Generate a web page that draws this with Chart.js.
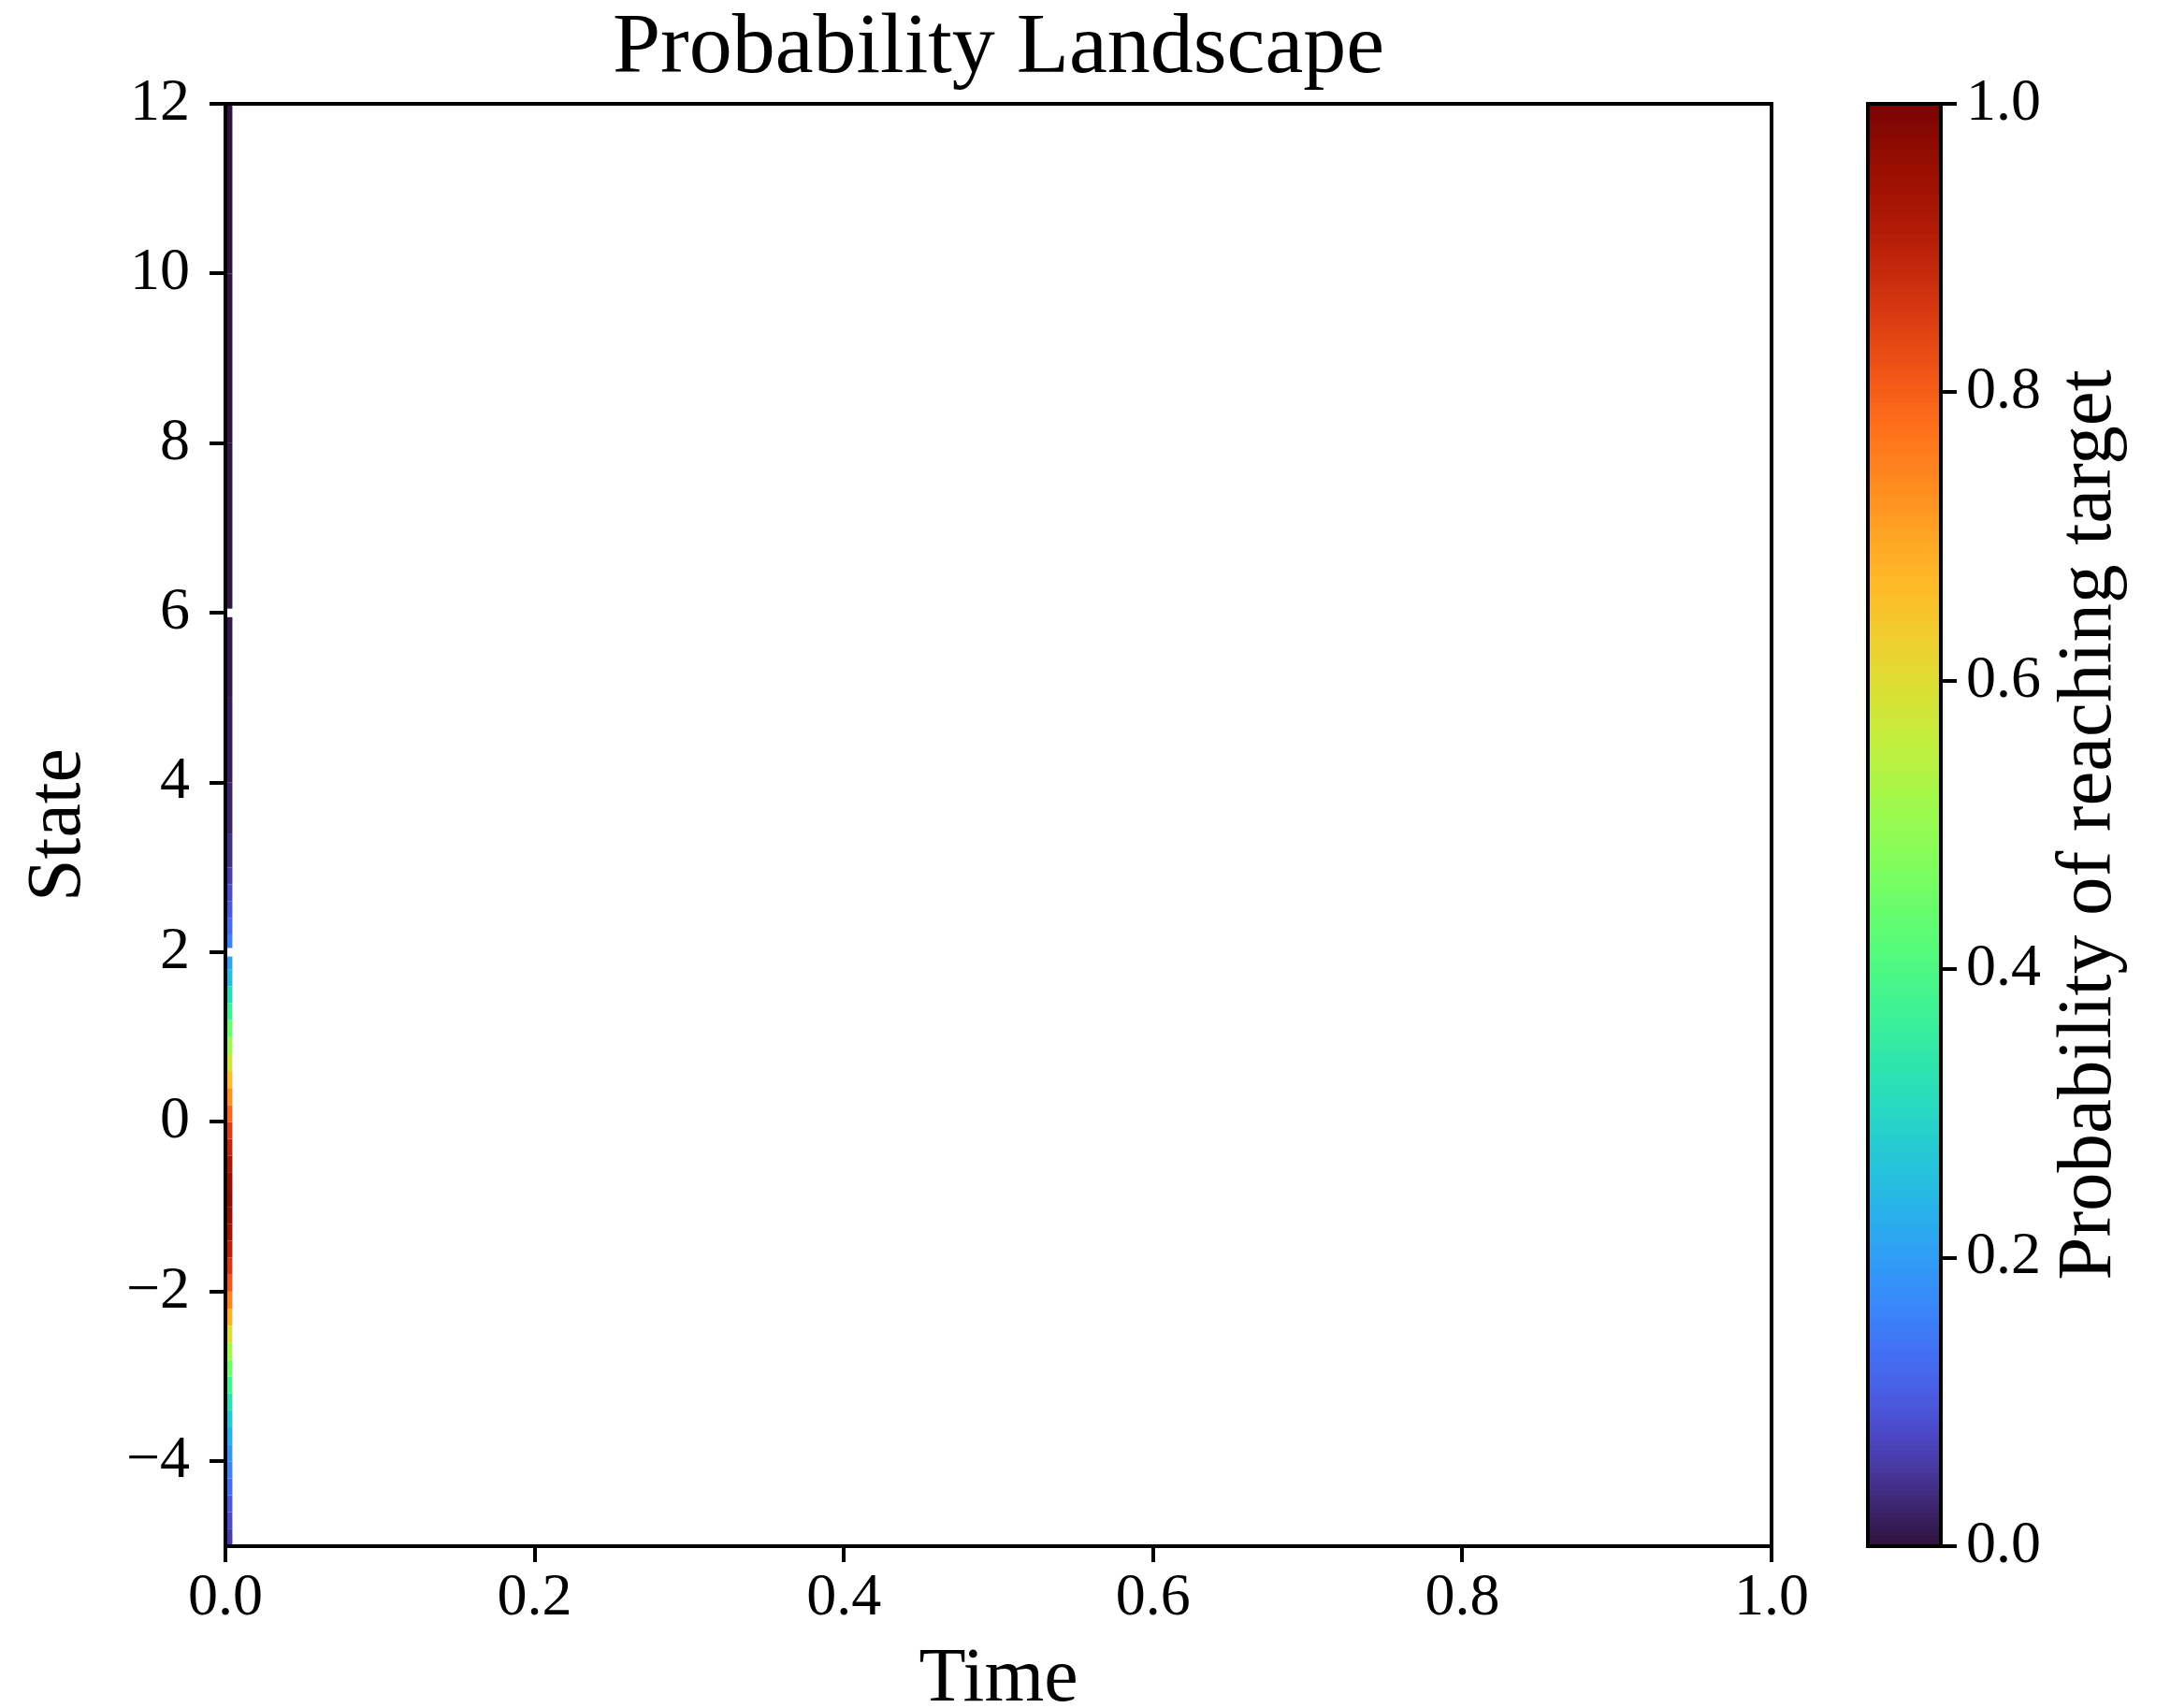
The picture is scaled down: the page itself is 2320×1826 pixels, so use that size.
<!DOCTYPE html>
<html>
<head>
<meta charset="utf-8">
<title>Probability Landscape</title>
<script src="https://cdn.jsdelivr.net/npm/chart.js@4.4.1/dist/chart.umd.min.js"></script>
<style>
    html, body { margin: 0; padding: 0; background: #fff; }
    #wrap { position: relative; width: 2320px; height: 1826px; }
    #wrap canvas { position: absolute; left: 0; top: 0; }
</style>
</head>
<body>
<div id="wrap">
    <canvas id="landscape" width="2320" height="1826"></canvas>
    <canvas id="colorbar" width="2320" height="1826"></canvas>
</div>
<script>
// Time bins that have been computed so far (only the first column)
const timeEdges = [0, 0.0045];

// State bin edges, finer around the target region
const stateEdges = [
    -5.0, -4.8, -4.6, -4.4, -4.2, -4.0, -3.8, -3.6, -3.4, -3.2,
    -3.0, -2.8, -2.6, -2.4, -2.2, -2.0, -1.8, -1.6, -1.4, -1.2,
    -1.0, -0.8, -0.6, -0.4, -0.2, 0.0, 0.2, 0.4, 0.6, 0.8,
    1.0, 1.2, 1.4, 1.6, 1.8, 1.95, 2.05, 2.2, 2.4, 2.6,
    2.8, 3.0, 3.4, 4.0, 5.0, 5.95, 6.05, 8.0, 10.0, 12.0
];

// Probability of reaching the target for each state bin (null = undefined)
const probReach = [
    0.06, 0.08, 0.10, 0.13, 0.16, 0.19, 0.23, 0.27, 0.32, 0.38,
    0.45, 0.52, 0.60, 0.68, 0.75, 0.81, 0.86, 0.90, 0.94, 0.96,
    0.97, 0.96, 0.93, 0.89, 0.85, 0.79, 0.73, 0.66, 0.58, 0.51,
    0.44, 0.37, 0.31, 0.25, 0.21, null, 0.16, 0.13, 0.10, 0.08,
    0.06, 0.04, 0.025, 0.015, 0.01, null, 0.005, 0.003, 0.002
];

const timeTicks = [0, 0.2, 0.4, 0.6, 0.8, 1.0];
const stateTicks = [-4, -2, 0, 2, 4, 6, 8, 10, 12];
const probTicks = [0, 0.2, 0.4, 0.6, 0.8, 1.0];

const W = 2320, H = 1826;
const FONT = '"Liberation Serif", "Times New Roman", serif';
const plotBox = { left: 241, right: 1894, top: 111, bottom: 1653 };
const cbBox = { left: 1997, right: 2075 };

// turbo colormap (polynomial fit, with the ends pinned to the real endpoints)
function turboPoly(t) {
    const r = 34.61 + t * (1172.33 - t * (10793.56 - t * (33300.12 - t * (38394.49 - t * 14825.05))));
    const g = 23.31 + t * (557.33 + t * (1225.33 - t * (3574.96 - t * (1073.77 + t * 707.56))));
    const b = 27.2 + t * (3211.1 - t * (15327.97 - t * (27814 - t * (22569.18 - t * 6838.66))));
    return [r, g, b];
}
function mix(a, b, f) {
    return [a[0] + (b[0] - a[0]) * f, a[1] + (b[1] - a[1]) * f, a[2] + (b[2] - a[2]) * f];
}
function turbo(t) {
    t = Math.max(0, Math.min(1, t));
    let c;
    if (t < 0.05) c = mix([48, 18, 59], turboPoly(0.05), t / 0.05);
    else if (t > 0.95) c = mix(turboPoly(0.95), [122, 4, 3], (t - 0.95) / 0.05);
    else c = turboPoly(t);
    const cl = v => Math.max(0, Math.min(255, Math.round(v)));
    return `rgb(${cl(c[0])}, ${cl(c[1])}, ${cl(c[2])})`;
}

// integer ticks for the state axis, one decimal for time / probability
function intFmt(v) {
    return v < 0 ? '\u2212' + Math.abs(v) : String(v);
}
function decFmt(v) {
    return v.toFixed(1);
}

const tickFont = { family: FONT, size: 64, weight: 'normal', lineHeight: 1.2 };
const labelFont = { family: FONT, size: 82, weight: 'normal', lineHeight: 0.8 };
const tickGrid = {
    display: true, drawOnChartArea: false, drawTicks: true,
    tickLength: 17, tickWidth: 4, tickColor: '#000', lineWidth: 4, color: '#000'
};

// draws the heatmap cells through the chart scales
const cellPlugin = {
    id: 'cells',
    beforeDatasetsDraw(chart) {
        const { ctx, chartArea, scales: { x, y } } = chart;
        ctx.save();
        ctx.beginPath();
        ctx.rect(chartArea.left, chartArea.top, chartArea.right - chartArea.left, chartArea.bottom - chartArea.top);
        ctx.clip();
        const x0 = x.getPixelForValue(timeEdges[0]);
        const x1 = x.getPixelForValue(timeEdges[1]);
        probReach.forEach((p, i) => {
            if (p === null) return;
            const yb = y.getPixelForValue(stateEdges[i]);
            const yt = y.getPixelForValue(stateEdges[i + 1]);
            ctx.fillStyle = turbo(p);
            ctx.fillRect(x0, yt, x1 - x0, yb - yt);
        });
        ctx.restore();
    }
};

// axes frame on all four sides
const framePlugin = {
    id: 'frame',
    afterDraw(chart) {
        const { ctx, chartArea: a } = chart;
        ctx.save();
        ctx.strokeStyle = '#000';
        ctx.lineWidth = 4;
        ctx.strokeRect(a.left, a.top, a.right - a.left, a.bottom - a.top);
        ctx.restore();
    }
};

const cells = probReach.map((p, i) => ({
    x: (timeEdges[0] + timeEdges[1]) / 2,
    y: (stateEdges[i] + stateEdges[i + 1]) / 2,
    v: p
}));

new Chart(document.getElementById('landscape'), {
    type: 'scatter',
    data: { datasets: [{ data: cells, pointRadius: 0, pointHoverRadius: 0 }] },
    options: {
        responsive: false,
        animation: false,
        devicePixelRatio: 1,
        events: [],
        layout: { padding: { left: 0, top: 0, right: W - plotBox.right, bottom: 0 } },
        plugins: {
            legend: { display: false },
            tooltip: { enabled: false },
            title: {
                display: true,
                text: 'Probability Landscape',
                fullSize: false,
                color: '#000',
                font: { family: FONT, size: 92, weight: 'normal', lineHeight: 1 },
                padding: { top: 7, bottom: 12 }
            }
        },
        scales: {
            x: {
                type: 'linear', position: 'bottom', min: 0, max: 1,
                afterFit: s => { s.height = H - plotBox.bottom; },
                afterBuildTicks: s => { s.ticks = timeTicks.map(v => ({ value: v })); },
                ticks: { callback: v => decFmt(v), color: '#000', padding: 1, maxRotation: 0, autoSkip: false, font: tickFont },
                grid: tickGrid,
                border: { display: false },
                title: { display: true, text: 'Time', color: '#000', font: labelFont, padding: { top: 0, bottom: -3 } }
            },
            y: {
                type: 'linear', position: 'left', min: -5, max: 12,
                afterFit: s => { s.width = plotBox.left; },
                afterBuildTicks: s => { s.ticks = stateTicks.map(v => ({ value: v })); },
                ticks: { callback: v => intFmt(v), color: '#000', padding: 21, autoSkip: false, font: tickFont },
                grid: tickGrid,
                border: { display: false },
                title: { display: true, text: 'State', color: '#000', font: labelFont, padding: { top: 31, bottom: 0 } }
            }
        }
    },
    plugins: [cellPlugin, framePlugin]
});

// colour scale drawn through the colorbar's own y scale
const gradientPlugin = {
    id: 'gradient',
    beforeDatasetsDraw(chart) {
        const { ctx, chartArea: a, scales: { y } } = chart;
        const n = 256;
        ctx.save();
        for (let k = 0; k < n; k++) {
            const yb = y.getPixelForValue(k / n);
            const yt = y.getPixelForValue((k + 1) / n);
            ctx.fillStyle = turbo((k + 0.5) / n);
            ctx.fillRect(a.left, Math.floor(yt), a.right - a.left, Math.ceil(yb) - Math.floor(yt));
        }
        ctx.restore();
    },
    afterDraw(chart) {
        const { ctx, chartArea: a } = chart;
        ctx.save();
        ctx.translate(a.right + 159, (a.top + a.bottom) / 2);
        ctx.rotate(-Math.PI / 2);
        ctx.fillStyle = '#000';
        ctx.font = `83px ${FONT}`;
        ctx.textAlign = 'center';
        ctx.textBaseline = 'middle';
        ctx.fillText('Probability of reaching target', 0, 0);
        ctx.restore();
    }
};

new Chart(document.getElementById('colorbar'), {
    type: 'scatter',
    data: { datasets: [{ data: [], pointRadius: 0 }] },
    options: {
        responsive: false,
        animation: false,
        devicePixelRatio: 1,
        events: [],
        layout: { padding: { left: cbBox.left, top: plotBox.top, right: 0, bottom: H - plotBox.bottom } },
        plugins: { legend: { display: false }, tooltip: { enabled: false } },
        scales: {
            x: { type: 'linear', display: false, min: 0, max: 1 },
            y: {
                type: 'linear', position: 'right', min: 0, max: 1,
                afterFit: s => { s.width = W - cbBox.right; },
                afterBuildTicks: s => { s.ticks = probTicks.map(v => ({ value: v })); },
                ticks: { callback: v => decFmt(v), color: '#000', padding: 10, autoSkip: false, font: tickFont },
                grid: tickGrid,
                border: { display: false }
            }
        }
    },
    plugins: [gradientPlugin, framePlugin]
});
</script>
</body>
</html>
